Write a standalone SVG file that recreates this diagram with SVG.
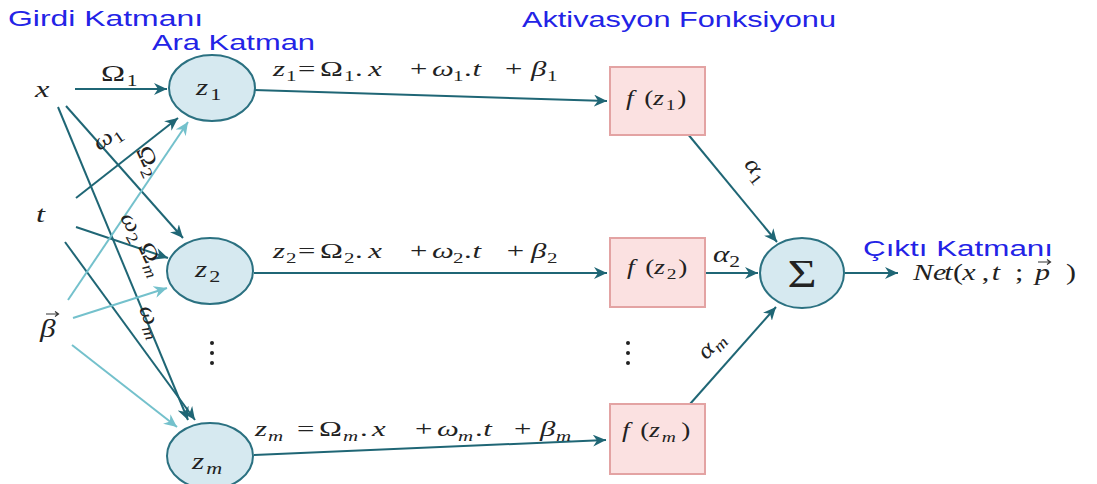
<svg xmlns="http://www.w3.org/2000/svg" width="1097" height="484" viewBox="0 0 1097 484">
<style>
.lbl{font-family:"Liberation Sans","DejaVu Sans",sans-serif;font-size:22px;fill:#2323e6}
.m{font-family:"Liberation Serif","DejaVu Serif",serif;fill:#222;font-size:21px}
.e{font-size:22px}
.i{font-style:italic}
.sb{font-size:15px}
.node{fill:#d6e9f0;stroke:#2b7181;stroke-width:2}
.box{fill:#fbe1e1;stroke:#e3a3a3;stroke-width:2}
.d{stroke:#1f6675;stroke-width:2;fill:none;marker-end:url(#ad)}
.l{stroke:#74c1cc;stroke-width:2;fill:none;marker-end:url(#al)}
.dot{fill:#222}
.acc{stroke:#333;stroke-width:1.2;fill:none}
</style>
<defs>
<marker id="ad" markerUnits="userSpaceOnUse" markerWidth="14" markerHeight="12" refX="13" refY="6" orient="auto"><path d="M0,0 L13,6 L0,12 L4,6 z" fill="#1f6675"/></marker>
<marker id="al" markerUnits="userSpaceOnUse" markerWidth="14" markerHeight="12" refX="13" refY="6" orient="auto"><path d="M0,0 L13,6 L0,12 L4,6 z" fill="#74c1cc"/></marker>
</defs>
<rect width="1097" height="484" fill="#fff"/>

<g id="layer-labels">
<text class="lbl" x="8" y="26" textLength="195" lengthAdjust="spacingAndGlyphs">Girdi Katmanı</text>
<text class="lbl" x="152" y="50" textLength="163" lengthAdjust="spacingAndGlyphs">Ara Katman</text>
<text class="lbl" x="522" y="27" textLength="314" lengthAdjust="spacingAndGlyphs">Aktivasyon Fonksiyonu</text>
<text class="lbl" x="863" y="256" textLength="190" lengthAdjust="spacingAndGlyphs">Çıktı Katmanı</text>
</g>

<g id="connectors">
<line class="d" x1="75" y1="89" x2="167" y2="89"/>
<line class="d" x1="66" y1="106" x2="183" y2="238"/>
<line class="d" x1="58" y1="107" x2="188" y2="420"/>
<line class="d" x1="76" y1="198" x2="178" y2="118"/>
<line class="d" x1="76" y1="227" x2="168" y2="258"/>
<line class="d" x1="65" y1="242" x2="195" y2="420"/>
<line class="l" x1="68" y1="300" x2="188" y2="122"/>
<line class="l" x1="73" y1="318" x2="167" y2="288"/>
<line class="l" x1="72" y1="345" x2="177" y2="427"/>
<line class="d" x1="254" y1="90" x2="607" y2="101"/>
<line class="d" x1="254" y1="273" x2="607" y2="273"/>
<line class="d" x1="254" y1="455" x2="606" y2="440"/>
<line class="d" x1="687" y1="133" x2="777" y2="242"/>
<line class="d" x1="706" y1="273" x2="758" y2="273"/>
<line class="d" x1="690" y1="404" x2="776" y2="307"/>
<line class="d" x1="845" y1="273" x2="898" y2="273"/>
</g>

<g id="input-x"><text class="m i" transform="translate(35,97) scale(1.35,1)" style="font-size:24px">x</text></g>
<g id="input-t"><text class="m i" transform="translate(36,222) scale(1.35,1)" style="font-size:24px">t</text></g>
<g id="input-beta"><text class="m i" transform="translate(40,337) scale(1.2,1)" style="font-size:26px">β</text><path class="acc" d="M46,314 H58 M55,311.5 L58.5,314 L55,316.5"/></g>

<g id="weight-labels">
<text class="m" transform="translate(101,81) scale(1.35,1)" style="font-size:24px">Ω<tspan x="19" y="5" style="font-size:16px">1</tspan></text>
<text class="m" transform="translate(111,143) rotate(-35) scale(1.2,1)" text-anchor="middle" style="font-size:23px"><tspan class="i">ω</tspan><tspan dy="5" style="font-size:16px">1</tspan></text>
<text class="m" transform="translate(142,164) rotate(65) scale(1.2,1)" text-anchor="middle" style="font-size:23px">Ω<tspan dy="5" style="font-size:16px">2</tspan></text>
<text class="m" transform="translate(127,230) rotate(60) scale(1.2,1)" text-anchor="middle" style="font-size:23px"><tspan class="i">ω</tspan><tspan dy="5" style="font-size:16px">2</tspan></text>
<text class="m" transform="translate(145,262) rotate(65) scale(1.2,1)" text-anchor="middle" style="font-size:23px">Ω<tspan class="i" dy="5" style="font-size:16px">m</tspan></text>
<text class="m" transform="translate(145,324) rotate(68) scale(1.2,1)" text-anchor="middle" style="font-size:23px"><tspan class="i">ω</tspan><tspan class="i" dy="5" style="font-size:16px">m</tspan></text>
<text class="m" transform="translate(751,174) rotate(52) scale(1.2,1)" text-anchor="middle" style="font-size:23px"><tspan class="i">α</tspan><tspan dy="5" style="font-size:16px">1</tspan></text>
<text class="m" transform="translate(713,262) scale(1.35,1)" style="font-size:23px"><tspan class="i">α</tspan><tspan x="12" y="5" style="font-size:16px">2</tspan></text>
<text class="m" transform="translate(716,350) rotate(-48) scale(1.2,1)" text-anchor="middle" style="font-size:23px"><tspan class="i">α</tspan><tspan class="i" dy="5" style="font-size:16px">m</tspan></text>
</g>

<g id="eq1"><text class="m e" transform="translate(273,76) scale(1.4,1)"><tspan class="i" x="0" y="0">z</tspan><tspan class="sb" x="9.3" y="5">1</tspan><tspan x="17.9" y="0">=</tspan><tspan x="33.6" y="0">Ω</tspan><tspan class="sb" x="50.7" y="5">1</tspan><tspan x="58.6" y="0">.</tspan><tspan class="i" x="68" y="0">x</tspan><tspan x="97.9" y="0">+</tspan><tspan class="i" x="113.6" y="0">ω</tspan><tspan class="sb" x="128.6" y="5">1</tspan><tspan x="136.4" y="0">.</tspan><tspan class="i" x="142.5" y="0">t</tspan><tspan x="165.7" y="0">+</tspan><tspan class="i" x="184.3" y="0">β</tspan><tspan class="sb" x="195.7" y="5">1</tspan></text></g>
<g id="eq2"><text class="m e" transform="translate(273,258) scale(1.4,1)"><tspan class="i" x="0" y="0">z</tspan><tspan class="sb" x="9.3" y="5">2</tspan><tspan x="17.9" y="0">=</tspan><tspan x="33.6" y="0">Ω</tspan><tspan class="sb" x="50.7" y="5">2</tspan><tspan x="58.6" y="0">.</tspan><tspan class="i" x="68" y="0">x</tspan><tspan x="97.9" y="0">+</tspan><tspan class="i" x="113.6" y="0">ω</tspan><tspan class="sb" x="128.6" y="5">2</tspan><tspan x="136.4" y="0">.</tspan><tspan class="i" x="142.5" y="0">t</tspan><tspan x="167" y="0">+</tspan><tspan class="i" x="184.3" y="0">β</tspan><tspan class="sb" x="195.7" y="5">2</tspan></text></g>
<g id="eqm"><text class="m e" transform="translate(255,436) scale(1.4,1)"><tspan class="i" x="0" y="0">z</tspan><tspan class="sb i" x="9.3" y="5">m</tspan><tspan x="30" y="0">=</tspan><tspan x="45.7" y="0">Ω</tspan><tspan class="sb i" x="62.8" y="5">m</tspan><tspan x="75" y="0">.</tspan><tspan class="i" x="83.6" y="0">x</tspan><tspan x="114.3" y="0">+</tspan><tspan class="i" x="130" y="0">ω</tspan><tspan class="sb i" x="145" y="5">m</tspan><tspan x="157.1" y="0">.</tspan><tspan class="i" x="163" y="0">t</tspan><tspan x="185" y="0">+</tspan><tspan class="i" x="203.6" y="0">β</tspan><tspan class="sb i" x="215" y="5">m</tspan></text></g>

<g id="node-z1"><ellipse class="node" cx="212" cy="88" rx="43" ry="33"/><text class="m" transform="translate(196,95) scale(1.3,1)" style="font-size:24px"><tspan class="i" x="0" y="0">z</tspan><tspan x="11" y="5" style="font-size:17px">1</tspan></text></g>
<g id="node-z2"><ellipse class="node" cx="210" cy="271" rx="43" ry="33"/><text class="m" transform="translate(195,277) scale(1.3,1)" style="font-size:24px"><tspan class="i" x="0" y="0">z</tspan><tspan x="11" y="5" style="font-size:17px">2</tspan></text></g>
<g id="node-zm"><ellipse class="node" cx="210" cy="456" rx="43" ry="33"/><text class="m" transform="translate(192,469) scale(1.3,1)" style="font-size:24px"><tspan class="i" x="0" y="0">z</tspan><tspan class="i" x="11" y="5" style="font-size:17px">m</tspan></text></g>

<g id="dots-left"><circle class="dot" cx="212" cy="343" r="2"/><circle class="dot" cx="212" cy="353" r="2"/><circle class="dot" cx="212" cy="363" r="2"/></g>
<g id="dots-right"><circle class="dot" cx="628" cy="343" r="2"/><circle class="dot" cx="628" cy="353" r="2"/><circle class="dot" cx="628" cy="363" r="2"/></g>

<g id="node-f1"><rect class="box" x="610" y="67" width="95" height="68"/><text class="m" transform="translate(626,105) scale(1.3,1)"><tspan class="i" x="0" y="0">f</tspan><tspan x="14" y="0">(</tspan><tspan class="i" x="21" y="0">z</tspan><tspan class="sb" x="30.5" y="5">1</tspan><tspan x="39.5" y="0">)</tspan></text></g>
<g id="node-f2"><rect class="box" x="610" y="238" width="95" height="69"/><text class="m" transform="translate(627,274) scale(1.3,1)"><tspan class="i" x="0" y="0">f</tspan><tspan x="14" y="0">(</tspan><tspan class="i" x="21" y="0">z</tspan><tspan class="sb" x="30.5" y="5">2</tspan><tspan x="39.5" y="0">)</tspan></text></g>
<g id="node-fm"><rect class="box" x="610" y="404" width="95" height="70"/><text class="m" transform="translate(622,437) scale(1.3,1)"><tspan class="i" x="0" y="0">f</tspan><tspan x="14" y="0">(</tspan><tspan class="i" x="21" y="0">z</tspan><tspan class="sb i" x="30.5" y="5">m</tspan><tspan x="45.5" y="0">)</tspan></text></g>

<g id="node-sum"><ellipse class="node" cx="802" cy="273" rx="42" ry="35"/><text class="m" transform="translate(802,287) scale(1.25,1)" text-anchor="middle" style="font-size:40px">Σ</text></g>

<g id="output"><text class="m" transform="translate(913,280) scale(1.25,1)" style="font-size:24px"><tspan class="i" x="0" y="0">N</tspan><tspan class="i" x="16" y="0">e</tspan><tspan class="i" x="25" y="0">t</tspan><tspan x="32" y="0">(</tspan><tspan class="i" x="39.5" y="0">x</tspan><tspan x="55" y="0">,</tspan><tspan class="i" x="63" y="0">t</tspan><tspan x="81.6" y="0">;</tspan><tspan class="i" x="97.6" y="0">p</tspan><tspan x="122.4" y="0">)</tspan></text><path class="acc" d="M1038,262 H1050 M1047,259.5 L1050.5,262 L1047,264.5"/></g>
</svg>
